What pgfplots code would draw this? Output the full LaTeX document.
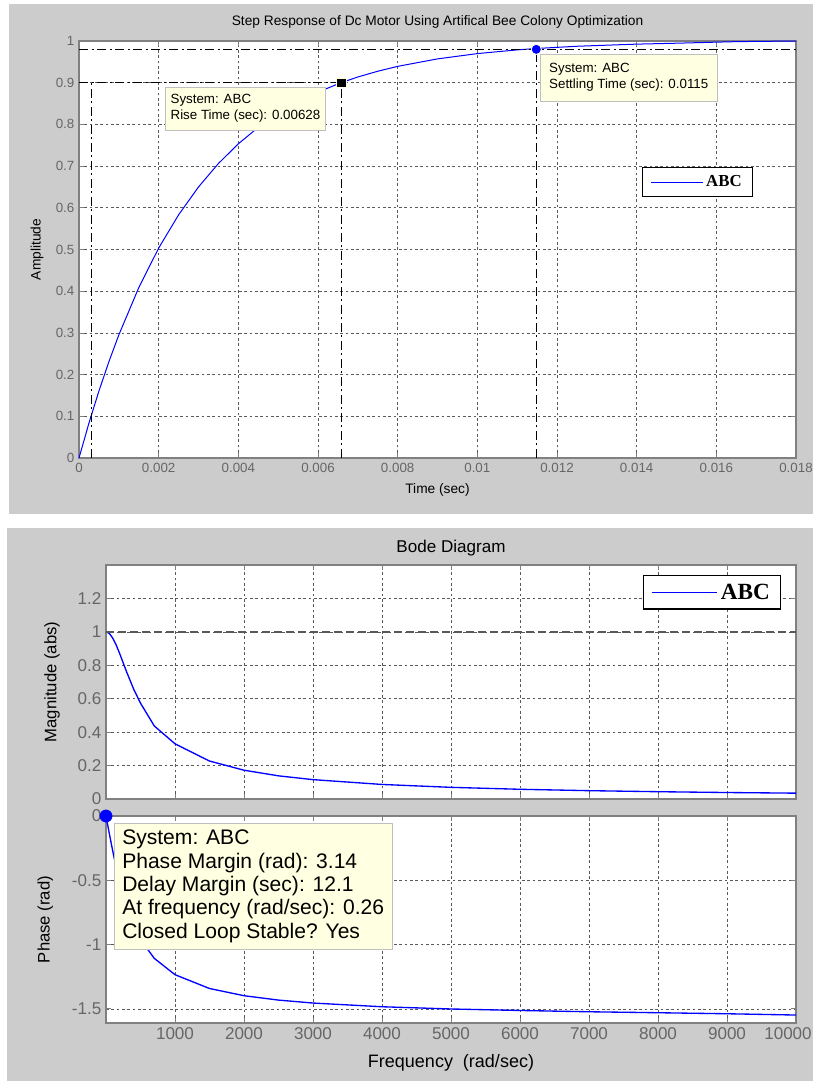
\documentclass[border=0pt]{standalone}
\usepackage{fontspec}
\setmainfont{Liberation Sans}
\newfontfamily\serifb{Liberation Serif}
\usepackage{pgfplots}
\pgfplotsset{compat=1.18}
\definecolor{bgray}{RGB}{204,204,204}
\definecolor{tipfill}{RGB}{255,255,225}
\definecolor{mblue}{RGB}{0,0,255}
\pgfplotsset{
  mystyle/.style={
    scale only axis,
    axis background/.style={fill=white},
    axis line style={black!50, line width=0.8pt},
    grid=major,
    major grid style={black!65, dash pattern=on 2pt off 2pt, line width=0.5pt},
    tick style={black!50, line width=0.6pt},
    major tick length=4pt,
    tick align=inside,
    /pgf/number format/assume math mode=true,
    ticklabel style={text=black!60},
    every axis title shift=0pt,
    clip=false,
    scaled ticks=false,
  },
  dashdot/.style={black, line width=0.9pt, dash pattern=on 7pt off 2.5pt on 1.5pt off 2.5pt, forget plot},
}
\begin{document}
\begin{tikzpicture}
\useasboundingbox (0,0) rectangle (609.75pt,-810.75pt);
\clip (0,0) rectangle (609.75pt,-810.75pt);
\fill[white] (0,0) rectangle (609.75pt,-810.75pt);
\fill[bgray] (6.75pt,-3pt) rectangle (609.75pt,-385.5pt);
\fill[bgray] (5.25pt,-396pt) rectangle (609.75pt,-810.75pt);

% ---------------- Step response ----------------
\begin{axis}[mystyle,
  at={(59.25pt,-343.5pt)}, anchor=south west,
  width=537.75pt, height=312.75pt,
  xmin=0, xmax=0.018, ymin=0, ymax=1,
  xtick={0,0.002,0.004,0.006,0.008,0.01,0.012,0.014,0.016,0.018},
  xticklabels={0,0.002,0.004,0.006,0.008,0.01,0.012,0.014,0.016,0.018},
  ytick={0,0.1,0.2,0.3,0.4,0.5,0.6,0.7,0.8,0.9,1},
  yticklabels={0,0.1,0.2,0.3,0.4,0.5,0.6,0.7,0.8,0.9,1},
  tick label style={font=\fontsize{10}{12}\selectfont},
  title={Step Response of Dc Motor Using Artifical Bee Colony Optimization},
  title style={at={(axis description cs:0.5,1.0456)}, anchor=center, font=\fontsize{10.3}{12}\selectfont},
  xlabel={Time (sec)},
  xlabel style={at={(axis description cs:0.5,-0.0767)}, anchor=center, font=\fontsize{10.3}{12}\selectfont},
  ylabel={Amplitude},
  ylabel style={at={(axis description cs:-0.0586,0.5)}, anchor=center, font=\fontsize{10.3}{12}\selectfont},
  legend style={at={(0.785,0.698)}, anchor=north west, draw=black, line width=0.9pt,
    font=\serifb\bfseries\fontsize{12.6}{14}\selectfont, inner xsep=6pt, inner ysep=4pt},
  legend image code/.code={\draw[mblue, line width=0.8pt] (0pt,0pt) -- (39pt,0pt);},
]
\addplot[mblue, line width=0.75pt] coordinates {
 (0,0) (0.00025,0.0838) (0.0005,0.1605) (0.00075,0.2308) (0.001,0.2953)
 (0.0015,0.4084) (0.002,0.5034) (0.0025,0.5831) (0.003,0.6500) (0.0035,0.7062)
 (0.004,0.7534) (0.0045,0.7929) (0.005,0.8262) (0.0055,0.8540) (0.006,0.8775)
 (0.00658,0.9000) (0.007,0.9137) (0.0075,0.9275) (0.008,0.9392) (0.009,0.9571)
 (0.010,0.9698) (0.011,0.9787) (0.01148,0.9820) (0.0125,0.9874) (0.014,0.9925)
 (0.015,0.9947) (0.0165,0.9985) (0.018,1.0)
};
\addlegendentry{ABC}
% settling / rise-time guide lines
\addplot[dashdot] coordinates {(0,0.98) (0.018,0.98)};
\addplot[dashdot] coordinates {(0,0.9) (0.00658,0.9)};
\addplot[dashdot] coordinates {(0.00032,0) (0.00032,0.9)};
\addplot[dashdot] coordinates {(0.00658,0) (0.00658,0.9)};
\addplot[dashdot] coordinates {(0.01148,0) (0.01148,0.98)};
% markers
\addplot[only marks, mark=square*, mark size=3.6pt, mark options={fill=black, draw=tipfill, line width=0.6pt}, forget plot] coordinates {(0.00658,0.9)};
\addplot[only marks, mark=*, mark size=3.8pt, mark options={fill=mblue, draw=tipfill, line width=0.6pt}, forget plot] coordinates {(0.01148,0.98)};
% data tips
\node[fill=tipfill, draw=black!25, anchor=north west, align=left, inner xsep=4pt, inner ysep=5.5pt,
  font=\fontsize{10}{12}\selectfont] at (axis cs:0.00216,0.8897)
  {System: ABC\\Rise Time (sec): 0.00628};
\node[fill=tipfill, draw=black!25, anchor=north west, align=left, inner xsep=6.5pt, inner ysep=7pt,
  font=\fontsize{10}{12}\selectfont] at (axis cs:0.01158,0.9688)
  {System: ABC\\Settling Time (sec): 0.0115};
\end{axis}

% ---------------- Bode magnitude ----------------
\begin{axis}[mystyle,
  at={(79.5pt,-599.25pt)}, anchor=south west,
  width=517.5pt, height=175.5pt,
  xmin=0, xmax=10000, ymin=0, ymax=1.4,
  xtick={1000,2000,3000,4000,5000,6000,7000,8000,9000,10000},
  xticklabels={},
  ytick={0,0.2,0.4,0.6,0.8,1,1.2},
  yticklabels={0,0.2,0.4,0.6,0.8,1,1.2},
  tick label style={font=\fontsize{12.8}{14}\selectfont},
  title={Bode Diagram},
  title style={at={(axis description cs:0.5,1.0726)}, anchor=center, font=\fontsize{12.8}{14}\selectfont},
  ylabel={Magnitude (abs)},
  ylabel style={at={(axis description cs:-0.078,0.5)}, anchor=center, font=\fontsize{12.5}{14}\selectfont},
  legend style={at={(0.778,0.957)}, anchor=north west, draw=black, line width=1pt,
    font=\serifb\bfseries\fontsize{17.4}{19}\selectfont, inner xsep=6pt, inner ysep=4pt},
  legend image code/.code={\draw[mblue, line width=1pt] (0pt,0pt) -- (49pt,0pt);},
]
\addplot[mblue, line width=1pt] coordinates {
 (0,1) (50,0.9899) (100,0.9615) (150,0.9191) (200,0.8682) (300,0.7592)
 (400,0.6584) (500,0.5734) (700,0.4370) (1000,0.3303) (1500,0.2272)
 (2000,0.1723) (2500,0.1386) (3000,0.1159) (4000,0.0871) (5000,0.0698)
 (6000,0.0582) (7000,0.0499) (8000,0.0437) (9000,0.0388) (10000,0.0350)
};
\addlegendentry{ABC}
\addplot[black!65, line width=1pt, dash pattern=on 6pt off 3pt, forget plot] coordinates {(0,1) (10000,1)};
\end{axis}

% ---------------- Bode phase ----------------
\begin{axis}[mystyle,
  at={(79.5pt,-767.25pt)}, anchor=south west,
  width=517.5pt, height=155.25pt,
  xmin=0, xmax=10000, ymin=-1.61, ymax=0,
  xtick={1000,2000,3000,4000,5000,6000,7000,8000,9000,10000},
  xticklabels={1000,2000,3000,4000,5000,6000,7000,8000,9000,\hspace*{-12pt}10000},
  ytick={-1.5,-1,-0.5,0},
  yticklabels={-1.5,-1,-0.5,0},
  tick label style={font=\fontsize{12.8}{14}\selectfont},
  xlabel={Frequency\ \ (rad/sec)},
  xlabel style={at={(axis description cs:0.5,-0.193)}, anchor=center, font=\fontsize{13.5}{15}\selectfont},
  ylabel={Phase (rad)},
  ylabel style={at={(axis description cs:-0.088,0.5)}, anchor=center, font=\fontsize{12.5}{14}\selectfont},
]
\addplot[mblue, line width=1pt] coordinates {
 (0,0) (50,-0.1419) (100,-0.2785) (150,-0.4056) (200,-0.5195) (300,-0.7086)
 (400,-0.8522) (500,-0.9605) (700,-1.1073) (1000,-1.2341) (1500,-1.3416)
 (2000,-1.3976) (2500,-1.4317) (3000,-1.4547) (4000,-1.4835) (5000,-1.5009)
 (6000,-1.5125) (7000,-1.5225) (8000,-1.5300) (9000,-1.5380) (10000,-1.5480)
};
\addplot[only marks, mark=*, mark size=4.6pt, mblue, forget plot] coordinates {(0.26,0)};
\node[fill=tipfill, draw=black!25, anchor=north west, align=left, inner xsep=6pt, inner ysep=5pt,
  font=\fontsize{15.8}{17.6}\selectfont] at (axis cs:116,-0.054)
  {System: ABC\\Phase Margin (rad): 3.14\\Delay Margin (sec): 12.1\\At frequency (rad/sec): 0.26\\Closed Loop Stable? Yes};
\end{axis}
\end{tikzpicture}
\end{document}
